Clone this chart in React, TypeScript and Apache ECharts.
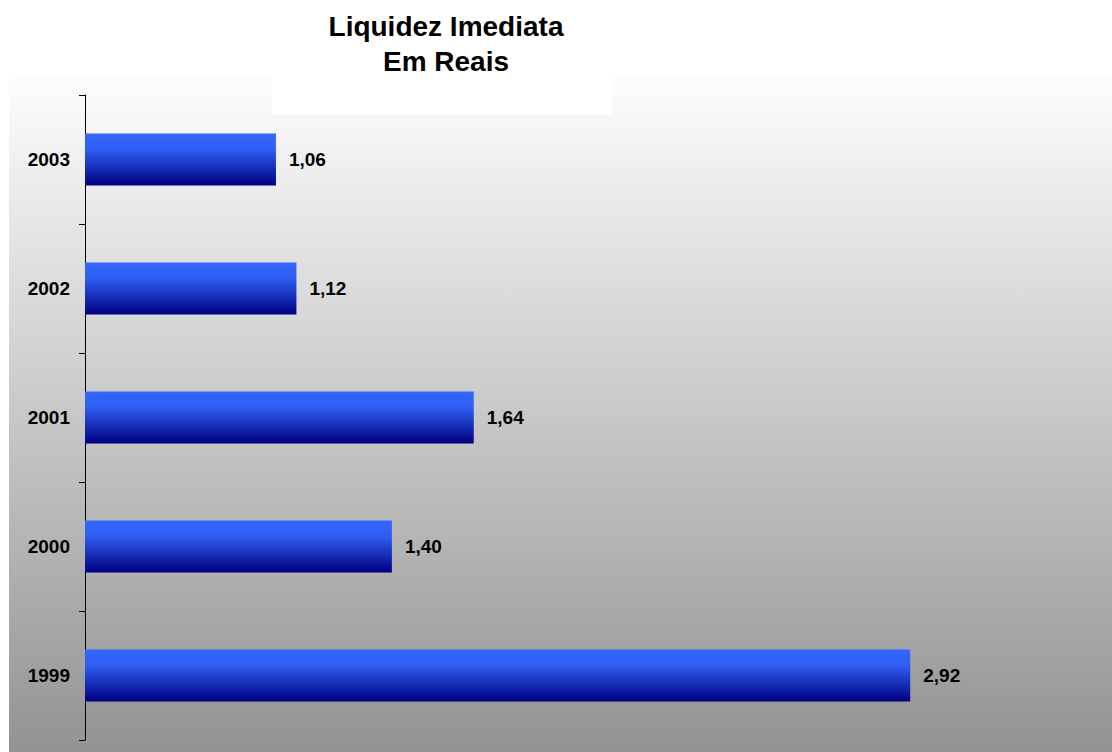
import React, { useEffect, useRef } from "react";
import * as echarts from "echarts";

const categories = ["1999", "2000", "2001", "2002", "2003"];
const values = [2.92, 1.4, 1.64, 1.12, 1.06];
const titleLines = ["Liquidez Imediata", "Em Reais"];

export default function App() {
  const ref = useRef<HTMLDivElement>(null);
  useEffect(() => {
    document.body.style.margin = "0";
    const chart = echarts.init(ref.current!, null, { renderer: "svg" });
    const font = "'Liberation Sans', Arial, sans-serif";
    chart.setOption({
      animation: false,
      backgroundColor: "#ffffff",
      title: {
        text: titleLines.join("\n"),
        left: 441,
        textAlign: "center",
        top: 4,
        textStyle: {
          fontFamily: font,
          fontWeight: "bold",
          fontSize: 28,
          lineHeight: 35,
          color: "#000000",
        },
      },
      graphic: [
        {
          type: "rect",
          z: -10,
          silent: true,
          shape: { x: 9, y: 77, width: 1103, height: 675 },
          style: {
            fill: new echarts.graphic.LinearGradient(0, 0, 0, 1, [
              { offset: 0, color: "#fdfdfd" },
              { offset: 1, color: "#939393" },
            ]),
          },
        },
        {
          type: "rect",
          z: -9,
          silent: true,
          shape: { x: 272, y: 77, width: 340, height: 38 },
          style: { fill: "#ffffff" },
        },
      ],
      grid: { left: 85, top: 95, bottom: 12, right: 4, containLabel: false },
      xAxis: {
        type: "value",
        min: 0.5,
        max: 3.5,
        show: false,
        splitLine: { show: false },
      },
      yAxis: {
        type: "category",
        data: categories,
        axisLine: { show: true, lineStyle: { color: "#000000", width: 1 } },
        axisTick: { show: true, length: 6, lineStyle: { color: "#000000" } },
        axisLabel: {
          margin: 15,
          fontFamily: font,
          fontWeight: "bold",
          fontSize: 19,
          color: "#000000",
        },
        splitLine: { show: false },
      },
      series: [
        {
          type: "bar",
          data: values,
          barWidth: 52,
          itemStyle: {
            color: new echarts.graphic.LinearGradient(0, 0, 0, 1, [
              { offset: 0, color: "#3366ff" },
              { offset: 0.3, color: "#2f5ef2" },
              { offset: 1, color: "#000080" },
            ]),
          },
          label: {
            show: true,
            position: "right",
            distance: 13,
            fontFamily: font,
            fontWeight: "bold",
            fontSize: 19,
            color: "#000000",
            formatter: (p: any) => p.value.toFixed(2).replace(".", ","),
          },
        },
      ],
    });
    return () => chart.dispose();
  }, []);
  return <div ref={ref} style={{ width: 1112, height: 752 }} />;
}
